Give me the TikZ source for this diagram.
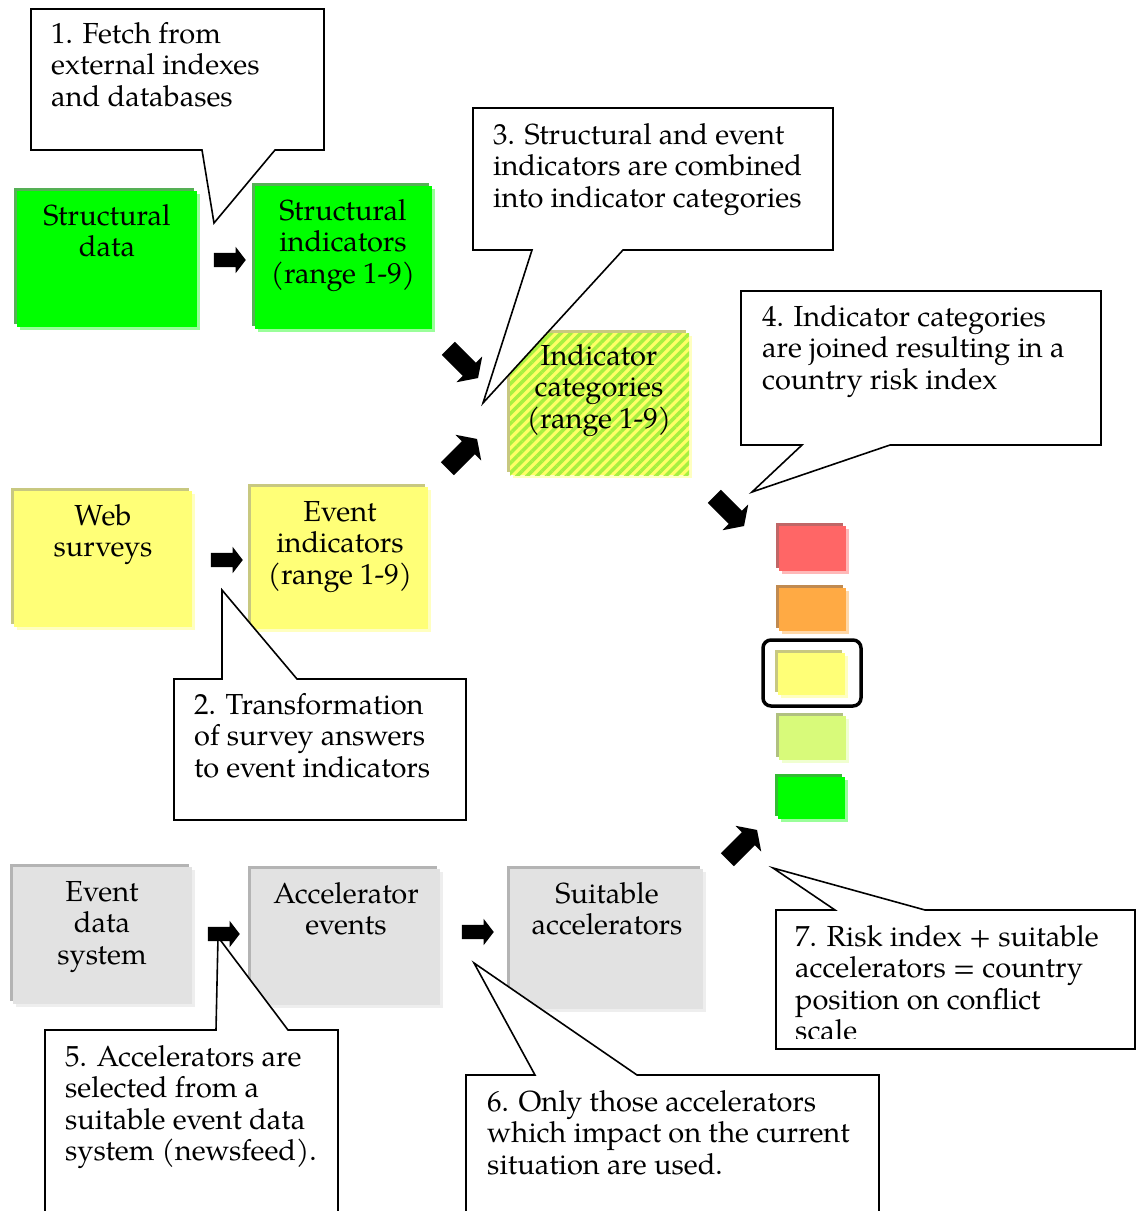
\documentclass[tikz,border=0pt]{standalone}
\usepackage{fontspec}
\setmainfont{texgyrepagella}[Extension=.otf,UprightFont=*-regular,BoldFont=*-bold,ItalicFont=*-italic,BoldItalicFont=*-bolditalic]
\usetikzlibrary{shapes.arrows,shadows,patterns.meta}

% card colours: face, upper-left edge, lower-right shadow
\definecolor{grnF}{HTML}{00FF00}\definecolor{grnD}{HTML}{55B055}\definecolor{grnL}{HTML}{99FF99}
\definecolor{ylwF}{HTML}{FFFF77}\definecolor{ylwD}{HTML}{C8C880}\definecolor{ylwL}{HTML}{FFFFC0}
\definecolor{hatY}{HTML}{FFFF66}\definecolor{hatG}{HTML}{A6F040}
\definecolor{gryF}{HTML}{E2E2E2}\definecolor{gryD}{HTML}{B4B4B4}\definecolor{gryL}{HTML}{EEEEEE}
\definecolor{redF}{HTML}{FF6666}\definecolor{redD}{HTML}{C06666}\definecolor{redL}{HTML}{FFB8B8}
\definecolor{orgF}{HTML}{FFAA44}\definecolor{orgD}{HTML}{C08A50}\definecolor{orgL}{HTML}{FFD8A8}
\definecolor{lgrF}{HTML}{D8FA7A}\definecolor{lgrD}{HTML}{B0C080}\definecolor{lgrL}{HTML}{F0FFD0}
\definecolor{sgrF}{HTML}{00FF00}\definecolor{sgrD}{HTML}{33BB33}\definecolor{sgrL}{HTML}{99FF99}

% multi-line texts are anchored at the baseline of their last line (line pitch 31.5)
\tikzset{
  card/.style n args={3}{rectangle, draw=none, fill=#1, inner sep=0pt, anchor=north west,
    general shadow={shadow xshift=-3pt, shadow yshift=3pt, fill=#2},
    general shadow={shadow xshift=3pt, shadow yshift=-3pt, fill=#3}},
  boxtext/.style={inner sep=0pt, anchor=base, align=center, font=\fontsize{29}{31.5}\selectfont},
  notetext/.style={inner sep=0pt, anchor=base west, align=left, font=\fontsize{29}{31.5}\selectfont},
  callout/.style={draw=black, fill=white, line width=1.6pt, line join=miter},
  harrow/.style={single arrow, fill=black, draw=none, inner xsep=0pt, inner ysep=7pt,
    minimum height=32pt, single arrow head extend=6pt, single arrow tip angle=105},
  darrow/.style={single arrow, fill=black, draw=none, inner xsep=0pt, inner ysep=9pt,
    minimum height=42pt, single arrow head extend=9pt, single arrow tip angle=112},
  scalering/.style={draw=black, line width=3.5pt, rounded corners=8pt}
}

\begin{document}
\begin{tikzpicture}[x=1pt,y=-1pt]
\useasboundingbox (0,0) rectangle (1143,1211);
\fill[white] (0,0) rectangle (1143,1211);

% ---- structural row
\node[card={grnF}{grnD}{grnL}, minimum width=180pt, minimum height=136pt] (sdata) at (17,191) {};
\node[boxtext] (sdataT) at (107,256.5) {Structural\\data};
\node[card={grnF}{grnD}{grnL}, minimum width=177pt, minimum height=143pt] (sind) at (255,186) {};
\node[boxtext] (sindT) at (343,283) {Structural\\indicators\\(range 1-9)};

% ---- combined indicator categories (striped)
\node[card={hatY}{ylwD}{ylwL}, minimum width=179pt, minimum height=142pt,
      postaction={pattern={Lines[angle=45,distance=7pt,line width=3.5pt]}, pattern color=hatG}] (icat) at (510,333) {};
\node[boxtext] (icatT) at (599,428) {Indicator\\categories\\(range 1-9)};

% ---- event row
\node[card={ylwF}{ylwD}{ylwL}, minimum width=178pt, minimum height=136pt] (web) at (14,491) {};
\node[boxtext] (webT) at (103,556.5) {Web\\surveys};
\node[card={ylwF}{ylwD}{ylwL}, minimum width=177pt, minimum height=142pt] (eind) at (251,487) {};
\node[boxtext] (eindT) at (340,584) {Event\\indicators\\(range 1-9)};

% ---- accelerator row
\node[card={gryF}{gryD}{gryL}, minimum width=179pt, minimum height=137pt] (eds) at (13,867) {};
\node[boxtext] (edsT) at (102,964) {Event\\data\\system};
\node[card={gryF}{gryD}{gryL}, minimum width=189pt, minimum height=136pt] (acc) at (251,869) {};
\node[boxtext] (accT) at (346,934.5) {Accelerator\\events};
\node[card={gryF}{gryD}{gryL}, minimum width=193pt, minimum height=140pt] (suit) at (510,869) {};
\node[boxtext] (suitT) at (607,934.5) {Suitable\\accelerators};

% ---- conflict scale
\node[card={redF}{redD}{redL}, minimum width=67pt, minimum height=45pt] (lvl1) at (779,526) {};
\node[card={orgF}{orgD}{orgL}, minimum width=67pt, minimum height=43pt] (lvl2) at (779,588) {};
\node[card={ylwF}{ylwD}{ylwL}, minimum width=67pt, minimum height=42pt] (lvl3) at (778,653) {};
\node[card={lgrF}{lgrD}{lgrL}, minimum width=67pt, minimum height=44pt] (lvl4) at (779,716) {};
\node[card={sgrF}{sgrD}{sgrL}, minimum width=67pt, minimum height=42pt] (lvl5) at (778,777) {};
\draw[scalering] (763,640) rectangle (861,706);

% ---- callouts
\draw[callout] (31,9) -- (324,9) -- (324,150) -- (275,150) -- (214,223) -- (202,150) -- (31,150) -- cycle;
\node[notetext] (n1) at (51,106) {1. Fetch from\\external indexes\\and databases};

\draw[callout] (473,108) -- (833,108) -- (833,250) -- (623,250) -- (483,403) -- (532,250) -- (473,250) -- cycle;
\node[notetext] (n3) at (493,207) {3. Structural and event\\indicators are combined\\into indicator categories};

\draw[callout] (741,291) -- (1101,291) -- (1101,445) -- (890,445) -- (752,492) -- (802,445) -- (741,445) -- cycle;
\node[notetext] (n4) at (762,389) {4. Indicator categories\\are joined resulting in a\\country risk index};

\draw[callout] (174,679) -- (222,679) -- (222,590) -- (297,679) -- (466,679) -- (466,820) -- (174,820) -- cycle;
\node[notetext] (n2) at (194,777) {2. Transformation\\of survey answers\\to event indicators};

\draw[callout] (45,1030) -- (216,1030) -- (218,937) -- (288,1030) -- (338,1030) -- (338,1240) -- (45,1240) -- cycle;
\node[notetext] (n5) at (65,1160.5) {5. Accelerators are\\selected from a\\suitable event data\\system (newsfeed).};

\draw[callout] (466,1075) -- (535,1075) -- (474,963) -- (637,1075) -- (879,1075) -- (879,1240) -- (466,1240) -- cycle;
\node[notetext] (n6) at (487,1174) {6. Only those accelerators\\which impact on the current\\situation are used.};

\draw[callout] (776,910) -- (835,910) -- (773,868) -- (925,910) -- (1135,910) -- (1135,1049) -- (776,1049) -- cycle;
\begin{scope}
  \clip (777,911) rectangle (1134,1038);
  \node[notetext] (n7) at (795,1040.5) {7. Risk index + suitable\\accelerators = country\\position on conflict\\scale};
\end{scope}

% ---- block arrows
\node[harrow] (a1) at (227,260) {};
\node[harrow] (a2) at (224,560) {};
\node[harrow] (a3) at (221,934) {};
\node[harrow] (a4) at (475,932) {};
\node[darrow, rotate=-45] (d1) at (461,361) {};
\node[darrow, rotate=45]  (d2) at (460,456) {};
\node[darrow, rotate=-45] (d3) at (727,509) {};
\node[darrow, rotate=45]  (d4) at (740,847) {};
\end{tikzpicture}
\end{document}
